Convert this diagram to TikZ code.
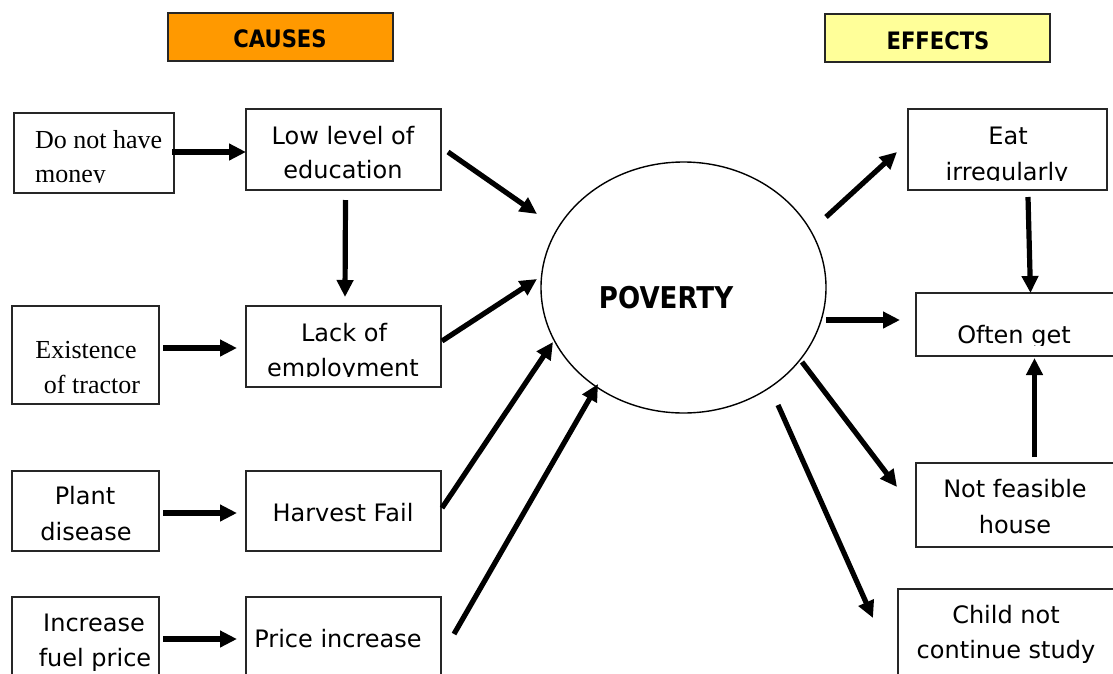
\documentclass[tikz,border=0pt]{standalone}
\usepackage{fontspec}
\usepackage{graphicx}
\setmainfont{Liberation Serif}
\newfontfamily\sansf{DejaVu Sans}
\usetikzlibrary{arrows.meta,shapes.geometric,calc}
\definecolor{causeorange}{HTML}{FF9900}
\definecolor{effectyellow}{HTML}{FFFF99}
\newcommand\mkbox[6]{\node[boxstyle,#6,minimum width={(#4-#2)*1pt},minimum height={(#5-#3)*1pt}] (#1) at ({(#2+#4)/2},{(#3+#5)/2}) {};}
\newcommand\narrowtxt[1]{\scalebox{0.88}[1]{#1}}
\tikzset{
  boxstyle/.style={draw=black!85,line width=1.5pt,rectangle,inner sep=0pt,outer sep=0pt},
  arr/.style={line width=5.2pt,-{Triangle[length=17pt,width=16pt]}},
  stxt/.style={anchor=base,inner sep=0pt,font=\sansf\fontsize{24}{24}\selectfont},
  rtxt/.style={anchor=base,inner sep=0pt,font=\fontsize{26}{26}\selectfont},
  htxt/.style={anchor=base,inner sep=0pt,font=\sansf\bfseries\fontsize{24}{24}\selectfont},
}
\begin{document}
\begin{tikzpicture}[x=1pt,y=-1pt]
\clip (0,0) rectangle (1113,673);
\fill[white] (0,0) rectangle (1113,673);
% header boxes
\mkbox{causes}{168}{13}{393}{61}{fill=causeorange}
\mkbox{effects}{825}{14}{1050}{62}{fill=effectyellow}
\node[htxt] (tcauses) at (280,47) {\narrowtxt{CAUSES}};
\node[htxt] (teffects) at (938,49) {\narrowtxt{EFFECTS}};
% cause boxes
\mkbox{money}{14}{113}{174}{193}{}
\mkbox{edu}{246}{109}{441}{190}{}
\mkbox{tractor}{12}{306}{159}{404}{}
\mkbox{emp}{246}{306}{441}{387}{}
\mkbox{plant}{12}{471}{159}{551}{}
\mkbox{harvest}{246}{471}{441}{551}{}
\mkbox{fuel}{12}{597}{159}{700}{}
\mkbox{price}{246}{597}{441}{700}{}
% effect boxes
\mkbox{eat}{908}{109}{1107}{190}{}
\mkbox{often}{916}{293}{1125}{356}{}
\mkbox{notf}{916}{463}{1125}{547}{}
\mkbox{child}{898}{589}{1125}{690}{}
% poverty
\node[ellipse,draw=black,line width=1.4pt,minimum width=285pt,minimum height=251pt,inner sep=0pt] (pov) at (683.5,287.5) {};
\node[anchor=base,inner sep=0pt,font=\sansf\bfseries\fontsize{30}{30}\selectfont] (tpov) at (666,308) {\scalebox{0.87}[1]{POVERTY}};
% texts
\begin{scope}
\clip (14,113) rectangle (174,182.5);
\node[rtxt,anchor=base west] (tmoney1) at (35,148) {Do not have};
\node[rtxt,anchor=base west] (tmoney2) at (35,182) {money};
\end{scope}
\node[stxt] (tedu1) at (343,144) {Low level of};
\node[stxt] (tedu2) at (343,178) {education};
\node[rtxt] (ttr1) at (86,358) {Existence};
\node[rtxt] (ttr2) at (92,393) {of tractor};
\begin{scope}
\clip (246,306) rectangle (441,376.5);
\node[stxt] (temp1) at (344,341) {Lack of};
\node[stxt] (temp2) at (343,376) {employment};
\end{scope}
\node[stxt] (tpl1) at (85,504) {Plant};
\node[stxt] (tpl2) at (86,540) {disease};
\node[stxt] (thv) at (343,521) {Harvest Fail};
\node[stxt] (tfu1) at (94,631) {Increase};
\node[stxt] (tfu2) at (95,666) {fuel price};
\node[stxt] (tpr) at (338,647) {Price increase};
\node[stxt] (teat1) at (1008,144) {Eat};
\begin{scope}
\clip (908,109) rectangle (1107,180.5);
\node[stxt] (teat2) at (1007,180) {irregularly};
\end{scope}
\begin{scope}
\clip (916,293) rectangle (1113,345);
\node[stxt] (toft) at (1014,343) {Often get};
\end{scope}
\node[stxt] (tnf1) at (1015,497) {Not feasible};
\node[stxt] (tnf2) at (1015,533) {house};
\node[stxt] (tch1) at (1006,623) {Child not};
\node[stxt] (tch2) at (1006,658) {continue study};
% arrows between causes
\draw[arr] ([shift={(-2,-1)}]money.east) -- ([shift={(0,2.5)}]edu.west);
\draw[arr] ([shift={(2,10)}]edu.south) -- ([shift={(1.5,-9)}]emp.north);
\draw[arr] ([shift={(4,-7)}]tractor.east) -- ([shift={(-9,1.5)}]emp.west);
\draw[arr] ([shift={(4,2)}]plant.east) -- ([shift={(-9,2)}]harvest.west);
\draw[arr] ([shift={(4,-9.5)}]fuel.east) -- ([shift={(-9,-9.5)}]price.west);
% arrows to poverty
\draw[arr] ([shift={(7,2.5)}]edu.east) -- ([shift={(-146.5,-73.5)}]pov.center);
\draw[arr] ([shift={(1,-5.5)}]emp.east) -- ([shift={(-146.5,-8.5)}]pov.center);
\draw[arr] ([shift={(1,-3)}]harvest.east) -- ([shift={(-130.5,54.5)}]pov.center);
\draw[arr] ([shift={(13,-14.5)}]price.east) -- ([shift={(-85.5,96.5)}]pov.center);
% arrows from poverty
\draw[arr] ([shift={(142.5,-70.5)}]pov.center) -- ([shift={(-11,2.5)}]eat.west);
\draw[arr] ([shift={(142.5,32.5)}]pov.center) -- ([shift={(-16,-4.5)}]often.west);
\draw[arr] ([shift={(118.5,74.5)}]pov.center) -- ([shift={(-19,-18)}]notf.west);
\draw[arr] ([shift={(94.5,117.5)}]pov.center) -- ([shift={(-25,-21.5)}]child.west);
% effect arrows
\draw[arr] ([shift={(20.5,7)}]eat.south) -- ([shift={(10,0)}]often.north);
\draw[arr] ([shift={(14,-6)}]notf.north) -- ([shift={(14,2)}]often.south);
\end{tikzpicture}
\end{document}
